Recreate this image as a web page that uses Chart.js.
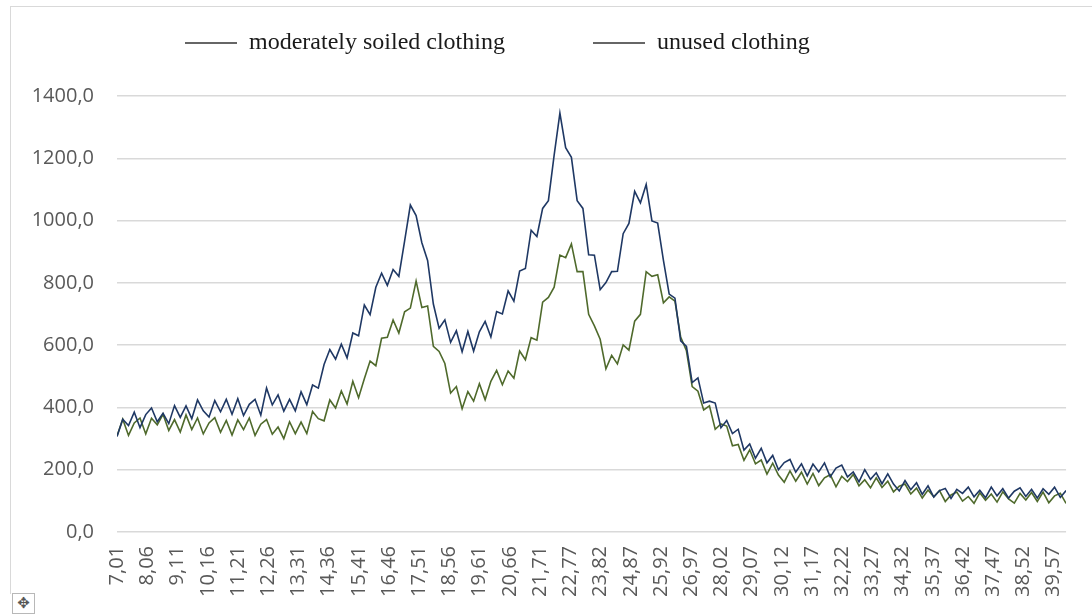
<!DOCTYPE html>
<html>
<head>
<meta charset="utf-8">
<script src="https://cdn.jsdelivr.net/npm/chart.js@4/dist/chart.umd.min.js"></script>
<style>
  html, body { margin: 0; padding: 0; background: #fff; }
  #wrap { position: relative; width: 1092px; height: 614px; overflow: hidden; }
  #frame { position: absolute; left: 10px; top: 6px; width: 1100px; height: 587px;
           border-left: 1.5px solid #d9d9d9; border-top: 1.5px solid #d9d9d9; }
  #handle { position: absolute; left: 12px; top: 593px; width: 21px; height: 19px;
            border: 1px solid #b8b8b8; font: 15px "DejaVu Sans"; color: #555;
            text-align: center; line-height: 19px; }
  canvas { position: absolute; left: 0; top: 0; }
</style>
</head>
<body>
<div id="wrap">
  <div id="frame"></div>
  <div id="handle">✥</div>
  <canvas id="chart" width="1092" height="614"></canvas>
</div>
<script>
const angleStart = 7.0;
const angleStep  = 0.2;

const angleTicks = [7.01, 8.06, 9.11, 10.16, 11.21, 12.26, 13.31, 14.36, 15.41, 16.46,
                    17.51, 18.56, 19.61, 20.66, 21.71, 22.77, 23.82, 24.87, 25.92, 26.97,
                    28.02, 29.07, 30.12, 31.17, 32.22, 33.27, 34.32, 35.37, 36.42, 37.47,
                    38.52, 39.57];

const yTicks = [0, 200, 400, 600, 800, 1000, 1200, 1400];

const seriesNames = ["moderately soiled clothing", "unused clothing"];

const soiled = [
  308, 362, 310, 350, 366, 315, 365, 344, 378, 326,   // 7.0
  361, 321, 376, 329, 366, 315, 350, 367, 320, 358,   // 9.0
  311, 360, 329, 366, 310, 346, 361, 314, 337, 300,   // 11.0
  354, 316, 353, 316, 387, 364, 357, 424, 398, 453,   // 13.0
  411, 484, 431, 492, 549, 534, 622, 625, 681, 639,   // 15.0
  707, 719, 806, 721, 726, 596, 580, 541, 446, 467,   // 17.0
  396, 451, 420, 476, 425, 484, 519, 473, 517, 494,   // 19.0
  581, 553, 624, 616, 738, 753, 786, 889, 881, 925,   // 21.0
  836, 836, 699, 662, 619, 524, 567, 540, 601, 584,   // 23.0
  677, 699, 836, 821, 826, 736, 755, 741, 626, 582,   // 25.0
  467, 452, 392, 405, 330, 347, 340, 277, 281, 230,   // 27.0
  264, 219, 231, 186, 221, 183, 160, 196, 163, 192,   // 29.0
  154, 188, 149, 174, 184, 145, 179, 162, 185, 148,   // 31.0
  168, 142, 174, 143, 163, 129, 147, 154, 122, 141,   // 33.0
  109, 135, 113, 133,  98, 119, 128,  99, 114,  92,   // 35.0
  126, 102, 122,  96, 129, 106,  93, 124, 103, 127,   // 37.0
   98, 128,  94, 116, 124,  92                        // 39.0
];

const unused = [
  307, 362, 342, 385, 335, 377, 398, 354, 381, 348,   // 7.0
  406, 368, 405, 364, 424, 389, 369, 422, 386, 426,   // 9.0
  378, 428, 374, 410, 426, 375, 462, 408, 440, 388,   // 11.0
  426, 389, 450, 409, 472, 462, 538, 586, 555, 603,   // 13.0
  559, 639, 630, 729, 698, 786, 831, 792, 843, 821,   // 15.0
  934, 1050, 1016, 929, 872, 732, 654, 681, 609, 646, // 17.0
  579, 644, 581, 643, 676, 626, 708, 700, 774, 741,   // 19.0
  838, 846, 969, 949, 1039, 1064, 1210, 1345, 1234, 1203, // 21.0
  1064, 1039, 890, 889, 778, 801, 836, 837, 958, 991, // 23.0
  1094, 1057, 1116, 999, 992, 872, 764, 751, 614, 596, // 25.0
  480, 495, 414, 420, 414, 335, 358, 316, 330, 263,   // 27.0
  283, 237, 269, 222, 246, 200, 223, 233, 192, 219,   // 29.0
  180, 218, 193, 222, 177, 205, 215, 177, 193, 161,   // 31.0
  200, 169, 190, 155, 187, 154, 132, 165, 136, 158,   // 33.0
  121, 148, 112, 133, 140, 108, 137, 124, 144, 113,   // 35.0
  134, 110, 144, 116, 139, 109, 131, 142, 114, 137,   // 37.0
  109, 139, 121, 144, 111, 133                        // 39.0
];

const soiledColor = "#4f6a2c";
const unusedColor = "#1f3864";

const toPoints = arr => arr.map((y, i) => ({ x: angleStart + i * angleStep, y }));
const comma = (v, d) => Number(v).toFixed(d).replace(".", ",");

// ---- legend drawn at the reference's positions ----
const legendPlugin = {
  id: "topLegend",
  afterDraw(chart) {
    const ctx = chart.ctx;
    const spots = [185, 593];
    ctx.save();
    chart.data.datasets.forEach((ds, i) => {
      const x0 = spots[i];
      ctx.strokeStyle = "#333";
      ctx.lineWidth = 1.3;
      ctx.beginPath();
      ctx.moveTo(x0, 43);
      ctx.lineTo(x0 + 52, 43);
      ctx.stroke();
      ctx.fillStyle = "#1a1a1a";
      ctx.font = '24px "Liberation Serif", "Times New Roman", serif';
      ctx.textBaseline = "alphabetic";
      ctx.fillText(ds.label, x0 + 64, 49);
    });
    ctx.restore();
  }
};

const gridColor = "#d9d9d9";
const tickFont = { family: "Open Sans", size: 20 };

new Chart(document.getElementById("chart"), {
  type: "line",
  data: {
    datasets: [
      { label: seriesNames[0], data: toPoints(soiled), borderColor: soiledColor,
        borderWidth: 1.6, pointRadius: 0, tension: 0, order: 1 },
      { label: seriesNames[1], data: toPoints(unused), borderColor: unusedColor,
        borderWidth: 1.6, pointRadius: 0, tension: 0, order: 0 },
    ]
  },
  options: {
    responsive: false,
    animation: false,
    devicePixelRatio: 1,
    layout: { padding: { top: 96, right: 23, left: 0, bottom: 0 } },
    plugins: { legend: { display: false }, tooltip: { enabled: false } },
    scales: {
      x: {
        type: "linear",
        min: 7.0,
        max: 40.0,
        grid: { display: false, drawTicks: false },
        border: { display: false },
        afterBuildTicks: s => { s.ticks = angleTicks.map(v => ({ value: v })); },
        afterFit: s => { s.height = 82; },
        ticks: {
          autoSkip: false, minRotation: 90, maxRotation: 90, padding: 14,
          color: "#595959", font: tickFont,
          callback: v => comma(v, 2)
        }
      },
      y: {
        min: 0,
        max: 1400,
        afterBuildTicks: s => { s.ticks = yTicks.map(v => ({ value: v })); },
        afterFit: s => { s.width = 117; },
        grid: { color: gridColor, lineWidth: 1.5, drawTicks: false },
        border: { display: false },
        ticks: { padding: 23, color: "#595959", font: tickFont, callback: v => comma(v, 1) }
      }
    }
  },
  plugins: [legendPlugin]
});
</script>
</body>
</html>
